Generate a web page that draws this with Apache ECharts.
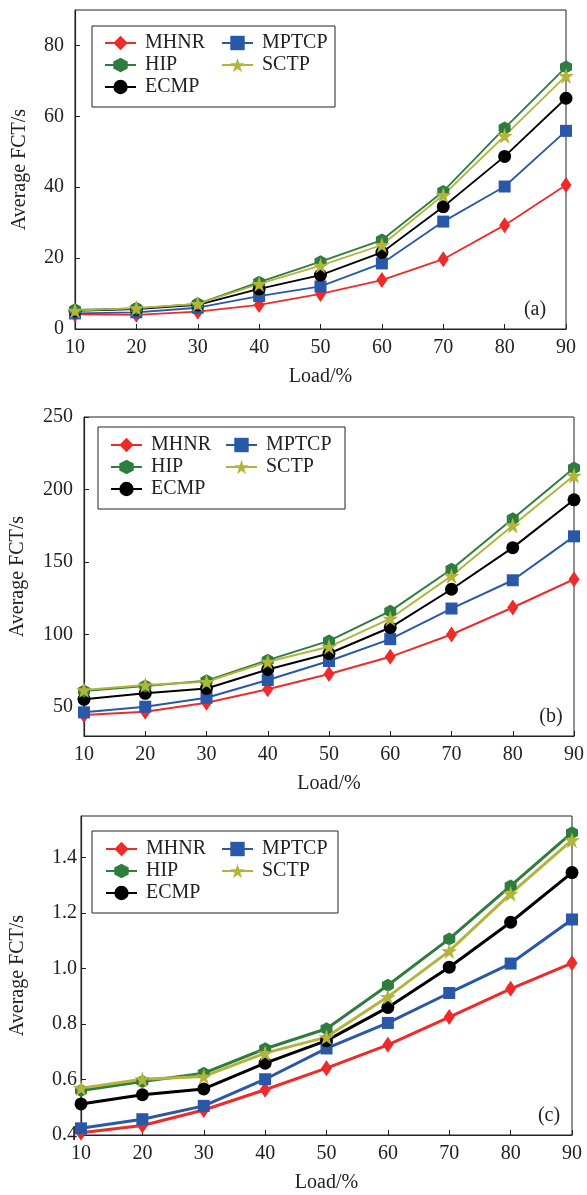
<!DOCTYPE html>
<html>
<head>
<meta charset="utf-8">
<script src="https://cdn.jsdelivr.net/npm/echarts@6/dist/echarts.min.js"></script>
<style>
html,body{margin:0;padding:0;background:#fff;}
#chart{width:587px;height:1195px;}
</style>
</head>
<body>
<div id="chart"></div>
<script>
// ---- data ----
const loads = [10, 20, 30, 40, 50, 60, 70, 80, 90];
const seriesNames = ['MHNR', 'MPTCP', 'ECMP', 'HIP', 'SCTP'];
const legendCol1 = ['MHNR', 'HIP', 'ECMP'];
const legendCol2 = ['MPTCP', 'SCTP'];
const panelTags = ['(a)', '(b)', '(c)'];

// (a)
const mhnrA  = [4.1, 4.0, 4.9, 6.8, 9.9, 13.8, 19.7, 29.3, 40.6];
const mptcpA = [4.4, 4.7, 6.0, 9.3, 12.0, 18.5, 30.3, 40.2, 55.9];
const ecmpA  = [5.1, 5.6, 6.8, 11.3, 15.2, 21.6, 34.5, 48.7, 65.1];
const hipA   = [5.4, 5.8, 7.1, 13.2, 19.0, 25.1, 38.8, 56.7, 73.9];
const sctpA  = [5.2, 5.9, 7.1, 12.7, 17.9, 23.7, 37.8, 54.5, 71.4];
// (b)
const mhnrB  = [44.5, 46.8, 53.0, 62.2, 72.7, 84.6, 100.0, 118.6, 138.1];
const mptcpB = [46.3, 50.2, 56.4, 68.6, 81.7, 96.8, 117.9, 137.4, 167.7];
const ecmpB  = [55.3, 59.4, 62.8, 75.9, 86.9, 104.8, 131.2, 159.9, 192.9];
const hipB   = [61.0, 64.4, 68.1, 82.3, 95.6, 116.1, 145.0, 179.8, 214.9];
const sctpB  = [61.7, 65.1, 67.4, 81.2, 91.5, 111.0, 140.4, 175.2, 209.6];
// (c)
const mhnrC  = [0.408, 0.434, 0.490, 0.563, 0.641, 0.725, 0.825, 0.927, 1.020];
const mptcpC = [0.424, 0.457, 0.505, 0.601, 0.712, 0.804, 0.912, 1.018, 1.177];
const ecmpC  = [0.512, 0.545, 0.566, 0.659, 0.740, 0.860, 1.005, 1.167, 1.346];
const hipC   = [0.560, 0.593, 0.623, 0.711, 0.783, 0.940, 1.107, 1.298, 1.490];
const sctpC  = [0.569, 0.601, 0.611, 0.695, 0.753, 0.898, 1.063, 1.270, 1.463];

// tick labels
const yTicksA = [0, 20, 40, 60, 80];
const yTicksB = [50, 100, 150, 200, 250];
const yTicksC = [0.4, 0.6, 0.8, 1.0, 1.2, 1.4];

// ---- styling ----
const FONT = "'Liberation Serif', 'Times New Roman', serif";
const TXT = '#222';
const colors = { MHNR: '#ee2b2b', MPTCP: '#2a58a8', ECMP: '#000000', HIP: '#2e7d3e', SCTP: '#b3b43a' };
const HEX = 'path://M0,-1 L0.866,-0.5 L0.866,0.5 L0,1 L-0.866,0.5 L-0.866,-0.5 Z';
const STAR = 'path://M0,-1 L0.2245,-0.309 L0.951,-0.309 L0.363,0.118 L0.588,0.809 L0,0.382 L-0.588,0.809 L-0.363,0.118 L-0.951,-0.309 L-0.2245,-0.309 Z';
const symbols = { MHNR: ['diamond', [11, 16]], MPTCP: ['rect', [12, 12]], ECMP: ['circle', [13, 13]], HIP: [HEX, [12, 13]], SCTP: [STAR, [16, 16]] };

const panels = [
  { grid: { left: 75, top: 10, width: 491, height: 319 }, yMin: 0, yMax: 90, ticks: yTicksA, yGap: 45, lw: 1.8,
    data: { MHNR: mhnrA, MPTCP: mptcpA, ECMP: ecmpA, HIP: hipA, SCTP: sctpA },
    legendTop: 33, leg1: 104, leg2: 221, box: [92, 26, 243, 81], tag: [535, 310], fmt: v => String(v) },
  { grid: { left: 83, top: 417, width: 492, height: 319 }, yMin: 30, yMax: 250, ticks: yTicksB, yGap: 56, lw: 2,
    data: { MHNR: mhnrB, MPTCP: mptcpB, ECMP: ecmpB, HIP: hipB, SCTP: sctpB },
    legendTop: 435, leg1: 110, leg2: 225, box: [98, 427, 247, 82], tag: [551, 717], fmt: v => String(v) },
  { grid: { left: 79, top: 816, width: 493, height: 319 }, yMin: 0.4, yMax: 1.55, ticks: yTicksC, yGap: 53, lw: 3,
    data: { MHNR: mhnrC, MPTCP: mptcpC, ECMP: ecmpC, HIP: hipC, SCTP: sctpC },
    legendTop: 839, leg1: 105, leg2: 221, box: [92, 831, 246, 82], tag: [549, 1116], fmt: v => v.toFixed(1) }
];

const grids = [], xAxes = [], yAxes = [], series = [], legends = [], graphics = [];
panels.forEach((p, i) => {
  grids.push(Object.assign({ show: true, borderColor: '#222', borderWidth: 1, backgroundColor: 'transparent' }, p.grid));
  xAxes.push({
    type: 'value', gridIndex: i, min: 10, max: 90, interval: 10,
    name: 'Load/%', nameLocation: 'middle', nameGap: 38,
    nameTextStyle: { fontFamily: FONT, fontSize: 20, color: TXT },
    axisLine: { lineStyle: { color: '#222', width: 1.2 } },
    axisTick: { inside: true, length: 5, lineStyle: { color: '#222' } },
    axisLabel: { margin: 9, fontFamily: FONT, fontSize: 20, color: TXT },
    splitLine: { show: false }
  });
  yAxes.push({
    type: 'value', gridIndex: i, min: p.yMin, max: p.yMax,
    name: 'Average FCT/s', nameLocation: 'middle', nameGap: p.yGap,
    nameTextStyle: { fontFamily: FONT, fontSize: 20, color: TXT },
    axisLine: { lineStyle: { color: '#222', width: 1.2 } },
    axisTick: { inside: true, length: 5, customValues: p.ticks, lineStyle: { color: '#222' } },
    axisLabel: { margin: i === 2 ? 4 : 11, fontFamily: FONT, fontSize: 20, color: TXT, customValues: p.ticks, formatter: p.fmt },
    splitLine: { show: false }
  });
  seriesNames.forEach(name => {
    series.push({
      name: name, type: 'line', xAxisIndex: i, yAxisIndex: i,
      data: loads.map((x, k) => [x, p.data[name][k]]),
      symbol: symbols[name][0], symbolSize: symbols[name][1], showAllSymbol: true,
      lineStyle: { color: colors[name], width: p.lw },
      itemStyle: { color: colors[name] },
      emphasis: { disabled: true }, animation: false, clip: false
    });
  });
  const legBase = {
    orient: 'vertical', top: p.legendTop, itemWidth: 31, itemHeight: 18, itemGap: 2, padding: 0,
    textStyle: { fontFamily: FONT, fontSize: 20, color: TXT, lineHeight: 20, padding: [0, 0, 0, 4] }
  };
  legends.push(Object.assign({}, legBase, { left: p.leg1, data: legendCol1 }));
  legends.push(Object.assign({}, legBase, { left: p.leg2, data: legendCol2 }));
  graphics.push({ type: 'rect', shape: { x: p.box[0], y: p.box[1], width: p.box[2], height: p.box[3] },
    style: { fill: 'transparent', stroke: '#222', lineWidth: 1 }, z: 10, silent: true });
  graphics.push({ type: 'text', x: p.tag[0], y: p.tag[1], z: 10, silent: true,
    style: { text: panelTags[i], font: '20px ' + FONT, fill: TXT, align: 'center', verticalAlign: 'middle' } });
});

const chart = echarts.init(document.getElementById('chart'), null, { renderer: 'canvas' });
chart.setOption({
  backgroundColor: '#fff',
  animation: false,
  grid: grids, xAxis: xAxes, yAxis: yAxes, series: series, legend: legends, graphic: graphics
});
</script>
</body>
</html>
